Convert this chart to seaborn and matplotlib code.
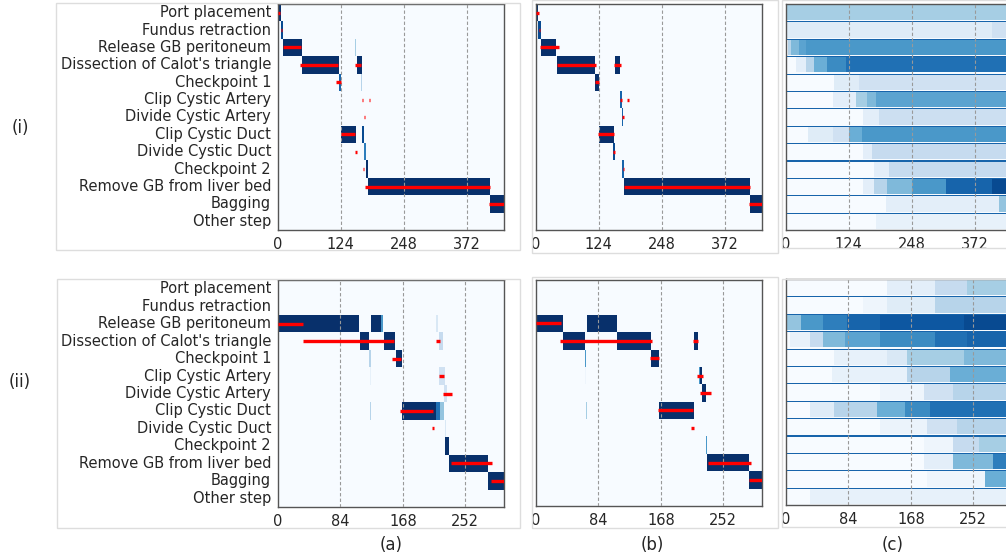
import numpy as np
import pandas as pd
import matplotlib
matplotlib.use("Agg")
import matplotlib.pyplot as plt
from matplotlib.patches import Rectangle
import seaborn as sns

PHASES = ["Port placement", "Fundus retraction", "Release GB peritoneum",
          "Dissection of Calot's triangle", "Checkpoint 1", "Clip Cystic Artery",
          "Divide Cystic Artery", "Clip Cystic Duct", "Divide Cystic Duct",
          "Checkpoint 2", "Remove GB from liver bed", "Bagging", "Other step"]

TOP_LEN = 446
BOT_LEN = 304
TOP_TICKS = [0, 124, 248, 372]
BOT_TICKS = [0, 84, 168, 252]

# predicted phase segments: (row, start, end, probability)
TOP_A_PRED = [(0, 0, 6, 1.0), (1, 6, 9, 0.9), (2, 9, 47, 1.0), (2, 152, 154, 0.35),
              (3, 47, 121, 1.0), (3, 155, 165, 1.0), (4, 121, 124, 0.8), (4, 164, 166, 0.3),
              (7, 124, 153, 1.0), (7, 166, 169, 0.9), (8, 170, 173, 0.7), (9, 173, 178, 1.0),
              (10, 178, 418, 1.0), (11, 418, 446, 1.0)]
# ground-truth segments (red): (row, start, end)
TOP_A_TRUE = [(0, 0, 4), (1, 5, 8), (2, 9, 46), (3, 44, 119), (3, 152, 164), (4, 115, 125),
              (5, 165, 168), (5, 179, 182), (6, 169, 172), (7, 124, 152), (8, 152, 155),
              (9, 168, 170), (10, 172, 418), (11, 416, 446)]

TOP_B_PRED = [(0, 0, 4, 1.0), (1, 4, 9, 0.9), (2, 9, 40, 1.0), (3, 41, 117, 1.0),
              (3, 155, 166, 1.0), (4, 117, 124, 1.0), (5, 166, 170, 0.8), (6, 169, 172, 0.8),
              (7, 124, 154, 1.0), (8, 152, 155, 0.9), (9, 170, 174, 0.8), (10, 174, 422, 1.0),
              (11, 422, 446, 1.0)]
TOP_B_TRUE = [(0, 0, 6), (1, 5, 8), (2, 7, 46), (3, 41, 118), (3, 154, 168), (4, 116, 125),
              (5, 166, 169), (5, 180, 183), (6, 170, 173), (7, 123, 154), (8, 152, 155),
              (9, 171, 173), (10, 174, 422), (11, 420, 446)]

BOT_A_PRED = [(2, 0, 109, 1.0), (2, 125, 139, 1.0), (2, 139, 141, 0.6), (2, 213, 215, 0.15),
              (3, 110, 123, 1.0), (3, 142, 158, 1.0), (3, 216, 222, 0.25), (4, 159, 167, 1.0),
              (4, 123, 125, 0.3), (5, 124, 125, 0.08), (5, 217, 225, 0.2), (6, 223, 227, 0.2),
              (7, 167, 213, 1.0), (7, 213, 218, 0.75), (7, 218, 223, 0.4), (7, 124, 125, 0.3),
              (8, 224, 226, 0.15), (9, 225, 230, 1.0), (10, 230, 282, 1.0), (11, 282, 304, 1.0)]
BOT_A_TRUE = [(2, 0, 33), (3, 33, 156), (3, 212, 218), (4, 154, 165), (5, 217, 223),
              (6, 222, 234), (7, 164, 209), (8, 207, 210), (10, 233, 288), (11, 287, 304)]

BOT_B_PRED = [(2, 0, 36, 1.0), (2, 68, 109, 1.0), (2, 212, 213, 0.5), (3, 36, 66, 1.0),
              (3, 109, 155, 1.0), (3, 212, 218, 1.0), (4, 155, 165, 1.0), (4, 66, 67, 0.6),
              (5, 219, 220, 0.6), (5, 220, 223, 1.0), (5, 66, 67, 0.05), (6, 223, 229, 1.0),
              (7, 165, 212, 1.0), (7, 67, 68, 0.35), (9, 229, 230, 0.6), (10, 230, 287, 1.0),
              (11, 287, 304, 1.0)]
BOT_B_TRUE = [(2, 0, 34), (3, 32, 156), (3, 211, 218), (4, 154, 166), (5, 217, 224),
              (6, 221, 235), (7, 164, 211), (8, 208, 213), (10, 232, 289), (11, 286, 304)]

# cumulative probability steps per phase: list of (time, value)
C_TOP = [
    [(0, 0.35)],
    [(0, 0.12), (407, 0.2)],
    [(3, 0.3), (10, 0.45), (25, 0.55), (40, 0.6)],
    [(20, 0.1), (40, 0.3), (55, 0.5), (80, 0.65), (118, 0.75)],
    [(95, 0.12), (144, 0.2)],
    [(92, 0.1), (138, 0.35), (160, 0.45), (177, 0.55)],
    [(151, 0.1), (184, 0.22)],
    [(43, 0.12), (92, 0.2), (125, 0.5), (150, 0.6)],
    [(151, 0.1), (170, 0.25)],
    [(174, 0.1), (203, 0.25)],
    [(151, 0.1), (174, 0.3), (200, 0.45), (249, 0.6), (315, 0.8), (407, 0.9)],
    [(197, 0.1), (420, 0.4)],
    [(177, 0.08)],
]
C_BOT = [
    [(136, 0.1), (201, 0.25), (243, 0.35)],
    [(104, 0.05), (136, 0.12), (201, 0.3)],
    [(2, 0.4), (20, 0.6), (50, 0.7), (82, 0.8), (127, 0.85), (240, 0.9)],
    [(5, 0.08), (32, 0.25), (50, 0.45), (80, 0.55), (127, 0.65), (200, 0.75), (243, 0.8)],
    [(64, 0.08), (136, 0.15), (163, 0.35), (240, 0.45)],
    [(62, 0.08), (163, 0.3), (220, 0.5)],
    [(127, 0.05), (185, 0.2), (225, 0.3)],
    [(32, 0.12), (64, 0.3), (122, 0.5), (160, 0.65), (194, 0.75)],
    [(127, 0.06), (190, 0.2), (230, 0.3)],
    [(185, 0.05), (225, 0.25), (260, 0.35)],
    [(185, 0.1), (225, 0.45), (279, 0.7)],
    [(190, 0.05), (268, 0.5)],
    [(32, 0.08)],
]
C_LINE = 0.8
SUB = 16

W, H = 1006, 559
sns.set_style("white")
plt.rcParams['font.family'] = ['DejaVu Sans']
fig = plt.figure(figsize=(W / 100, H / 100), dpi=100)


def rect(x0, y0, x1, y1):
    return [x0 / W, 1 - y1 / H, (x1 - x0) / W, (y1 - y0) / H]


def seg_matrix(segs, n):
    m = np.zeros((len(PHASES), n))
    for r, s, e, v in segs:
        m[r, s:e] = np.maximum(m[r, s:e], v)
    return pd.DataFrame(m, index=PHASES)


def cum_matrix(steps, n):
    m = np.zeros((len(PHASES) * SUB, n))
    for r, st in enumerate(steps):
        band = np.zeros(n)
        for t, v in st:
            band[t:] = v
        m[r * SUB, :] = C_LINE
        m[r * SUB + 1:r * SUB + SUB - 1, :] = band
    return m


def style(ax, ticks, n):
    for s in ax.spines.values():
        s.set_visible(True)
        s.set_color("#555555")
        s.set_linewidth(1.0)
    ax.set_xticks(ticks)
    ax.set_xticklabels([str(t) for t in ticks], rotation=0, fontsize=10.5)
    ax.tick_params(axis="both", length=3, width=0.8, color="#555555", pad=2)
    for t in ticks[1:]:
        ax.axvline(t, color="#999999", lw=0.8, ls=(0, (3, 2)), zorder=5)
    ax.set_xlabel("")
    ax.set_ylabel("")


def seg_panel(rc, pred, true, n, ticks, labels):
    ax = fig.add_axes(rect(*rc))
    sns.heatmap(seg_matrix(pred, n), ax=ax, cmap="Blues", vmin=0, vmax=1, cbar=False,
                linewidths=0, rasterized=True)
    for r, s, e in true:
        ax.hlines(r + 0.5, s, e, color="#ff0000", lw=2.4, zorder=6)
    style(ax, ticks, n)
    if labels:
        ax.set_yticks(np.arange(len(PHASES)) + 0.5)
        ax.set_yticklabels(PHASES, rotation=0, fontsize=10.5)
    else:
        ax.set_yticks(np.arange(len(PHASES)))
        ax.set_yticklabels([])
    ax.set_xlim(0, n)
    return ax


def cum_panel(rc, steps, n, ticks):
    ax = fig.add_axes(rect(*rc))
    sns.heatmap(cum_matrix(steps, n), ax=ax, cmap="Blues", vmin=0, vmax=1, cbar=False,
                linewidths=0, rasterized=True)
    style(ax, ticks, n)
    ax.set_yticks(np.arange(len(PHASES)) * SUB)
    ax.set_yticklabels([])
    ax.set_xlim(0, n)
    return ax


# frames around each sub-figure
for (x0, y0, x1, y1) in [(56, 3, 520, 250), (532, 0, 778, 253), (782, 0, 1010, 248),
                         (57, 279, 520, 528), (532, 277, 778, 528), (782, 279, 1010, 527)]:
    fig.patches.append(Rectangle((x0 / W, 1 - y1 / H), (x1 - x0) / W, (y1 - y0) / H,
                                 transform=fig.transFigure, fill=False,
                                 edgecolor="#dddddd", lw=1.0))

seg_panel((278, 4, 504, 230), TOP_A_PRED, TOP_A_TRUE, TOP_LEN, TOP_TICKS, True)
seg_panel((536, 4, 762, 230), TOP_B_PRED, TOP_B_TRUE, TOP_LEN, TOP_TICKS, False)
cum_panel((786, 4, 1012, 230), C_TOP, TOP_LEN, TOP_TICKS)
seg_panel((278, 280, 504, 507), BOT_A_PRED, BOT_A_TRUE, BOT_LEN, BOT_TICKS, True)
seg_panel((536, 280, 762, 506), BOT_B_PRED, BOT_B_TRUE, BOT_LEN, BOT_TICKS, False)
cum_panel((786, 279, 1012, 505), C_BOT, BOT_LEN, BOT_TICKS)

fig.text(20 / W, 1 - 128 / H, "(i)", fontsize=12, ha="center", va="center")
fig.text(20 / W, 1 - 382 / H, "(ii)", fontsize=12, ha="center", va="center")
for x, s in [(391, "(a)"), (652, "(b)"), (893, "(c)")]:
    fig.text(x / W, 1 - 545 / H, s, fontsize=12, ha="center", va="center")

fig.savefig("out.png", dpi=100)
